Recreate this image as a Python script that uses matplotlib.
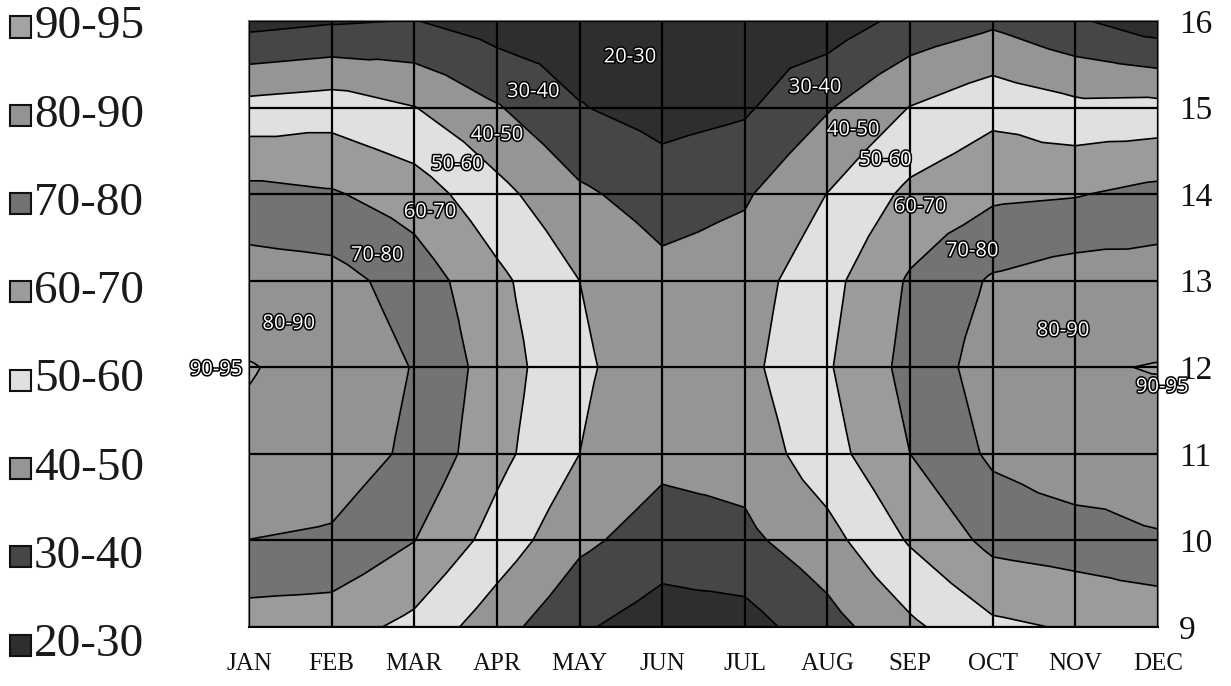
import numpy as np
import matplotlib
matplotlib.use("Agg")
import matplotlib.pyplot as plt
import matplotlib.tri as mtri
import matplotlib.patheffects as pe
from matplotlib.patches import Rectangle

months = ["JAN", "FEB", "MAR", "APR", "MAY", "JUN", "JUL", "AUG", "SEP", "OCT", "NOV", "DEC"]
hours = [9, 10, 11, 12, 13, 14, 15, 16]

# values per hour row (JAN..DEC)
h09 = [65.0, 64.3, 57.3, 44.0, 31.3, 25.0, 25.9, 36.0, 48.0, 58.0, 61.0, 62.0]
h10 = [79.9, 78.5, 70.2, 56.0, 42.2, 35.0, 37.6, 46.5, 61.0, 72.8, 75.0, 79.0]
h11 = [88.5, 86.0, 77.8, 63.0, 50.0, 42.7, 43.9, 56.0, 70.0, 81.8, 87.2, 86.5]
h12 = [90.4, 87.5, 79.5, 65.0, 51.5, 44.7, 47.3, 59.0, 73.2, 84.9, 89.3, 90.3]
h13 = [85.0, 83.7, 75.6, 62.4, 50.0, 43.0, 45.3, 56.8, 71.2, 81.2, 85.0, 85.1]
h14 = [73.0, 71.0, 65.2, 53.1, 41.7, 35.5, 38.8, 50.2, 62.3, 68.2, 69.4, 73.0]
h15 = [53.5, 55.5, 50.3, 40.8, 30.5, 26.0, 28.6, 39.2, 50.3, 57.0, 52.6, 53.0]
h16 = [26.5, 29.0, 30.3, 25.2, 24.0, 23.0, 24.0, 24.4, 33.1, 38.1, 31.3, 24.3]

levels = [20, 30, 40, 50, 60, 70, 80, 90, 95]
band_labels = ["20-30", "30-40", "40-50", "50-60", "60-70", "70-80", "80-90", "90-95"]
band_colors = ["#2e2e2e", "#464646", "#959595", "#e0e0e0", "#9b9b9b", "#737373", "#939393", "#a3a3a3"]

Z = np.array([h09, h10, h11, h12, h13, h14, h15, h16])
nr, nc = Z.shape

# Build grid nodes + cell centres (4 triangles per cell)
xs, ys, zs = [], [], []
for i in range(nr):
    for j in range(nc):
        xs.append(j); ys.append(hours[i]); zs.append(Z[i, j])
tris = []
for i in range(nr - 1):
    for j in range(nc - 1):
        a = i * nc + j
        b = i * nc + j + 1
        d = (i + 1) * nc + j + 1
        e = (i + 1) * nc + j
        m = len(xs)
        xs.append(j + 0.5); ys.append((hours[i] + hours[i + 1]) / 2)
        zs.append((Z[i, j] + Z[i, j + 1] + Z[i + 1, j] + Z[i + 1, j + 1]) / 4)
        tris += [[a, b, m], [b, d, m], [d, e, m], [e, a, m]]
tri = mtri.Triangulation(np.array(xs, float), np.array(ys, float), np.array(tris))
zs = np.array(zs)

fig = plt.figure(figsize=(12.31, 6.86), dpi=100)
ax = fig.add_axes([249 / 1231, 1 - 627 / 686, (1158 - 249) / 1231, (627 - 21) / 686])
ax.tricontourf(tri, zs, levels=levels, colors=band_colors, zorder=1)
ax.tricontour(tri, zs, levels=levels[1:-1], colors="black", linewidths=1.2, zorder=2)

ax.set_xlim(0, nc - 1)
ax.set_ylim(hours[0], hours[-1])
ax.set_xticks(range(nc))
ax.set_xticklabels(months, family="Liberation Serif", fontsize=18)
ax.set_yticks(hours)
ax.set_yticklabels([str(h) for h in hours], family="Liberation Serif", fontsize=24)
ax.get_yticklabels()[0].set_verticalalignment("top")
ax.yaxis.tick_right()
ax.tick_params(axis="x", length=0, pad=19, colors="#111111")
ax.tick_params(axis="y", length=0, pad=15, colors="#111111")
ax.set_axisbelow(False)
ax.grid(True, color="black", linewidth=1.6)
for s in ax.spines.values():
    s.set_color("#777777")
    s.set_linewidth(1.5)
ax.spines["bottom"].set_color("black")

# contour band labels
label_text = ["20-30", "30-40", "40-50", "50-60", "60-70", "70-80", "80-90", "90-95",
              "30-40", "40-50", "50-60", "60-70", "70-80", "80-90", "90-95"]
label_x = [4.61, 3.44, 3.00, 2.52, 2.19, 1.55, 0.48, -0.40,
           6.85, 7.31, 7.70, 8.12, 8.75, 9.85, 11.05]
label_y = [15.58, 15.18, 14.68, 14.34, 13.79, 13.29, 12.50, 11.97,
           15.23, 14.74, 14.39, 13.85, 13.34, 12.42, 11.77]
for t, x, y in zip(label_text, label_x, label_y):
    ax.text(x, y, t, ha="center", va="center", fontsize=14.5, color="white",
            family="Open Sans", zorder=6, clip_on=False,
            path_effects=[pe.withStroke(linewidth=2.2, foreground="black")])

# legend on the left (top = highest band)
for k, (lab, col) in enumerate(zip(band_labels[::-1], band_colors[::-1])):
    yc = 27 + k * 88.3
    fig.add_artist(Rectangle((10 / 1231, 1 - (yc + 10.5) / 686), 21 / 1231, 21 / 686,
                             transform=fig.transFigure, facecolor=col,
                             edgecolor="#111111", linewidth=1.5))
    fig.text(34 / 1231, 1 - yc / 686, lab, ha="left", va="center", fontsize=34,
             family="Liberation Serif", color="#1a1a1a")

fig.savefig("out.png", dpi=100)
